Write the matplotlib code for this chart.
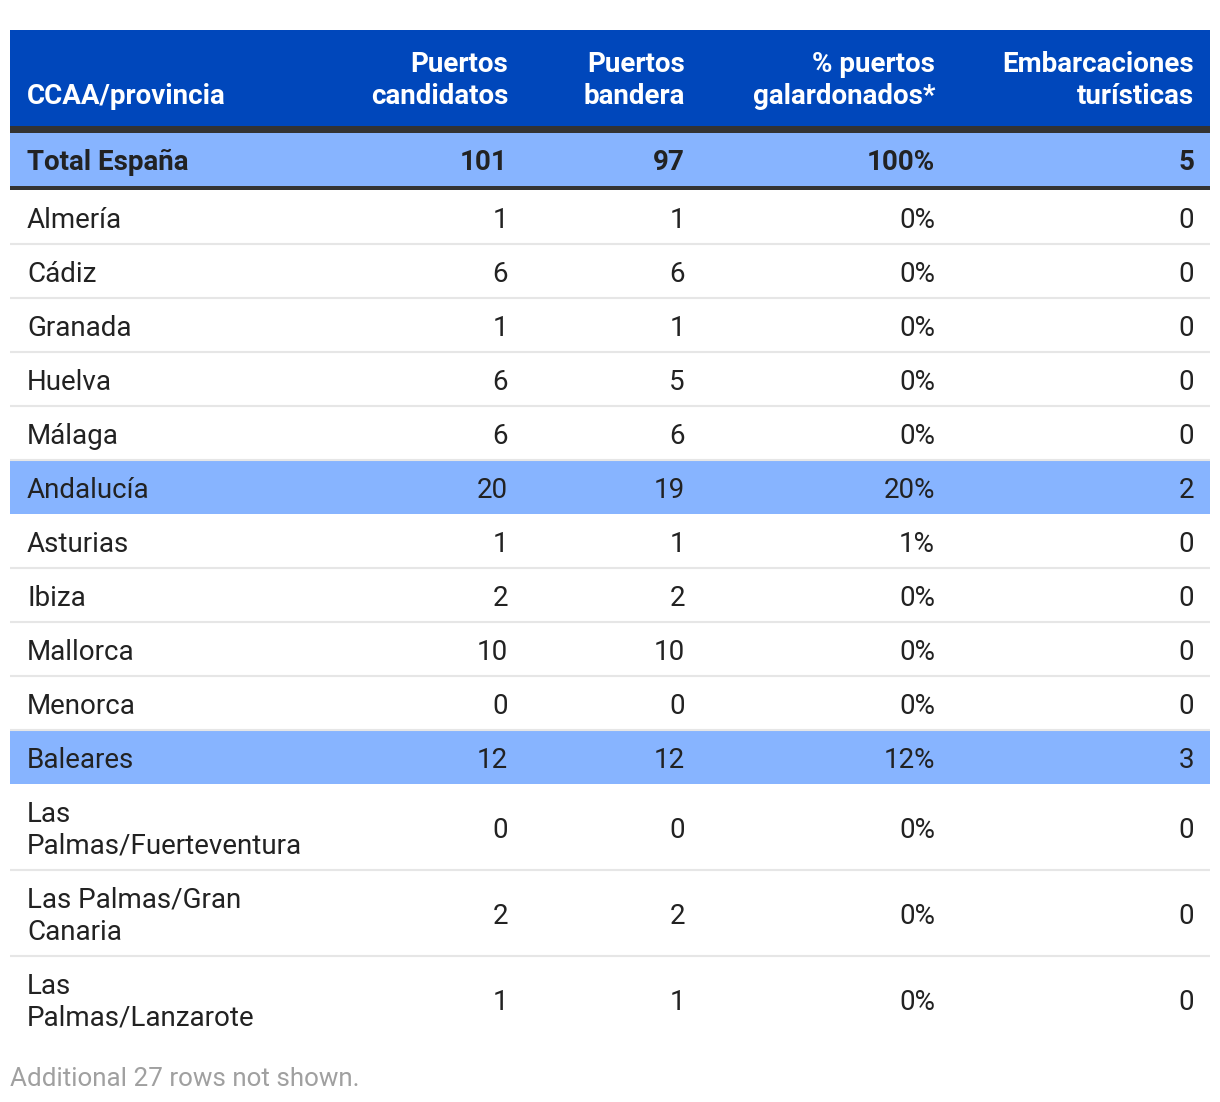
import matplotlib
matplotlib.use("Agg")
import matplotlib.pyplot as plt
from matplotlib.patches import Rectangle
from matplotlib import font_manager as fm

columns = ["CCAA/provincia", "Puertos\ncandidatos", "Puertos\nbandera",
           "% puertos\ngalardonados*", "Embarcaciones\nturísticas"]
total_row = ["Total España", "101", "97", "100%", "5"]
regions = ["Almería", "Cádiz", "Granada", "Huelva", "Málaga", "Andalucía",
           "Asturias", "Ibiza", "Mallorca", "Menorca", "Baleares",
           "Las\nPalmas/Fuerteventura", "Las Palmas/Gran\nCanaria",
           "Las\nPalmas/Lanzarote"]
candidatos = [1, 6, 1, 6, 6, 20, 1, 2, 10, 0, 12, 0, 2, 1]
bandera = [1, 6, 1, 5, 6, 19, 1, 2, 10, 0, 12, 0, 2, 1]
pct_galardonados = ["0%", "0%", "0%", "0%", "0%", "20%", "1%", "0%", "0%", "0%", "12%", "0%", "0%", "0%"]
embarcaciones = [0, 0, 0, 0, 0, 2, 0, 0, 0, 0, 3, 0, 0, 0]
highlighted = ["Andalucía", "Baleares"]
footer = "Additional 27 rows not shown."


def find_font(fname, fallback_weight):
    for f in fm.fontManager.ttflist:
        if f.fname.endswith("/" + fname):
            return fm.FontProperties(fname=f.fname)
    return fm.FontProperties(family=['Roboto', 'DejaVu Sans'], weight=fallback_weight)


REG = find_font("Roboto-Regular.ttf", 'normal')
BOLD = find_font("Roboto-Bold.ttf", 'bold')

W, H = 1220, 1102
fig = plt.figure(figsize=(W / 100, H / 100), dpi=100)
ax = fig.add_axes([0, 0, 1, 1])
ax.set_xlim(0, W)
ax.set_ylim(H, 0)
ax.axis('off')

BLUE = "#0047BB"
LIGHT = "#87B4FF"
DARK = "#333333"
TXT = "#222222"
FS = 20.0
LINE = 32
DY = 2

x_left, x_right = 10, 1210
text_x = [27, 508, 685, 935, 1194]


def txt(x, y, s, ha, color, bold=False, size=FS):
    fp = (BOLD if bold else REG).copy()
    fp.set_size(size)
    ax.text(x, y + DY, s, ha=ha, va='center', color=color, fontproperties=fp)


# header
ax.add_patch(Rectangle((x_left, 30), x_right - x_left, 96, color=BLUE, lw=0))
for i, col in enumerate(columns):
    lines = col.split("\n")
    n = len(lines)
    for j, ln in enumerate(lines):
        y = 94 - (n - 1 - j) * LINE
        txt(text_x[i], y, ln, 'left' if i == 0 else 'right', 'white', bold=True)

# dark bar and total row
ax.add_patch(Rectangle((x_left, 126), x_right - x_left, 7, color=DARK, lw=0))
ax.add_patch(Rectangle((x_left, 133), x_right - x_left, 53, color=LIGHT, lw=0))
ax.add_patch(Rectangle((x_left, 186), x_right - x_left, 4, color=DARK, lw=0))
for i, v in enumerate(total_row):
    txt(text_x[i], 160, v, 'left' if i == 0 else 'right', TXT, bold=True)

# body rows
y = 190
for k, name in enumerate(regions):
    lines = name.split("\n")
    h = 54 if len(lines) == 1 else 86
    if name in highlighted:
        ax.add_patch(Rectangle((x_left, y), x_right - x_left, h, color=LIGHT, lw=0))
    elif k < len(regions) - 1:
        ax.plot([x_left, x_right], [y + h, y + h], color="#E6E6E6", lw=1.5,
                solid_capstyle='butt')
    yc = y + h / 2 + 1
    n = len(lines)
    for j, ln in enumerate(lines):
        ly = yc + (j - (n - 1) / 2) * LINE
        txt(text_x[0], ly, ln, 'left', TXT)
    vals = [str(candidatos[k]), str(bandera[k]), pct_galardonados[k], str(embarcaciones[k])]
    for i, v in enumerate(vals):
        txt(text_x[i + 1], yc, v, 'right', TXT)
    y += h

txt(10, 1077, footer, 'left', "#A0A0A0", size=18.7)

fig.savefig("out.png", dpi=100)
